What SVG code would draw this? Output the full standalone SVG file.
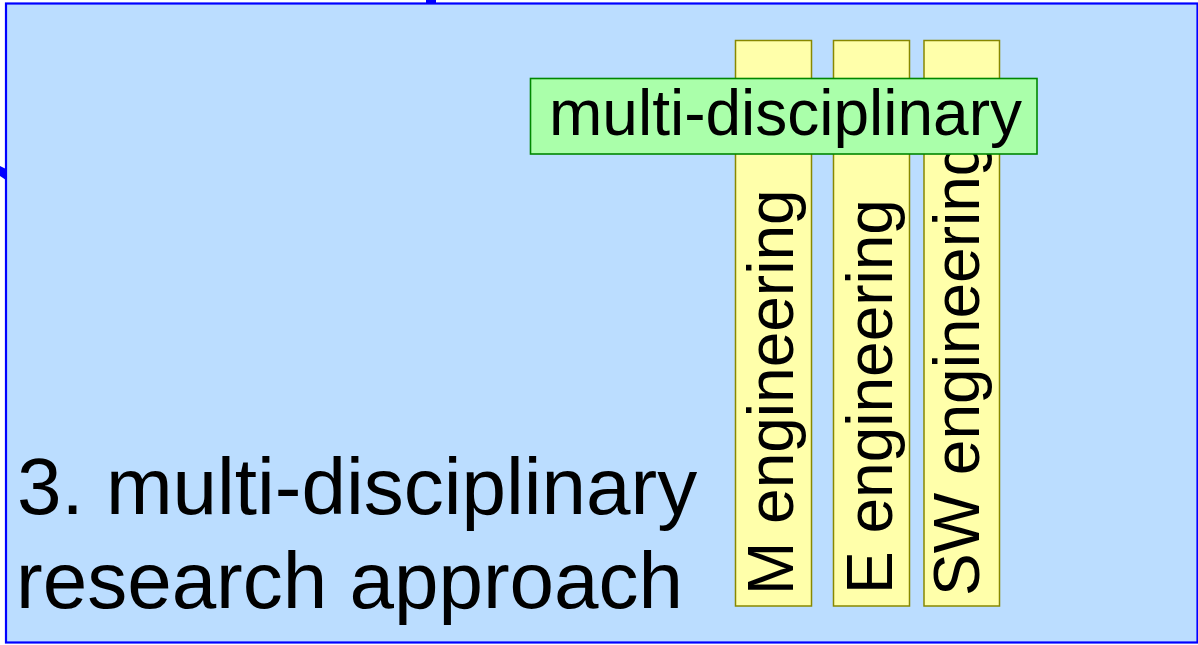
<svg xmlns="http://www.w3.org/2000/svg" width="1198" height="645" viewBox="0 0 1198 645">
  <style>
    text { font-family: "Liberation Sans", Arial, sans-serif; fill: #000; }
    .panel { fill: #BBDDFF; stroke: #0000FF; stroke-width: 2.2; }
    .edge { fill: #0000FF; }
    .bar { fill: #FFFFAA; stroke: #888800; stroke-width: 1.5; }
    .band { fill: #AAFFAA; stroke: #008800; stroke-width: 1.6; }
    .label { font-size: 64px; }
    .title { font-size: 80px; }
  </style>

  <!-- background panel -->
  <g id="panel">
    <rect class="panel" x="6" y="3.5" width="1191.5" height="639"/>
    <rect class="edge" x="426" y="0" width="10" height="3.5"/>
    <polygon class="edge" points="0,166 6,169 6,180 0,176"/>
  </g>

  <!-- discipline columns -->
  <g id="col-m">
    <rect class="bar" x="735.5" y="40.5" width="76" height="565.5"/>
    <text class="label" transform="translate(793,595) rotate(-90)">M engineering</text>
  </g>
  <g id="col-e">
    <rect class="bar" x="833.5" y="40.5" width="76" height="565.5"/>
    <text class="label" transform="translate(892,594) rotate(-90)">E engineering</text>
  </g>
  <g id="col-sw">
    <rect class="bar" x="924" y="40.5" width="75.5" height="565.5"/>
    <text class="label" transform="translate(979,596) rotate(-90)">SW engineering</text>
  </g>

  <!-- band spanning the columns -->
  <g id="band">
    <rect class="band" x="530.5" y="78.5" width="506.5" height="75.5"/>
    <text class="label" x="549" y="135">multi-disciplinary</text>
  </g>

  <!-- caption -->
  <g id="caption">
    <text class="title" x="17" y="514">3. multi-disciplinary</text>
    <text class="title" x="16" y="608">research approach</text>
  </g>

  <g id="connectors"/>
</svg>
